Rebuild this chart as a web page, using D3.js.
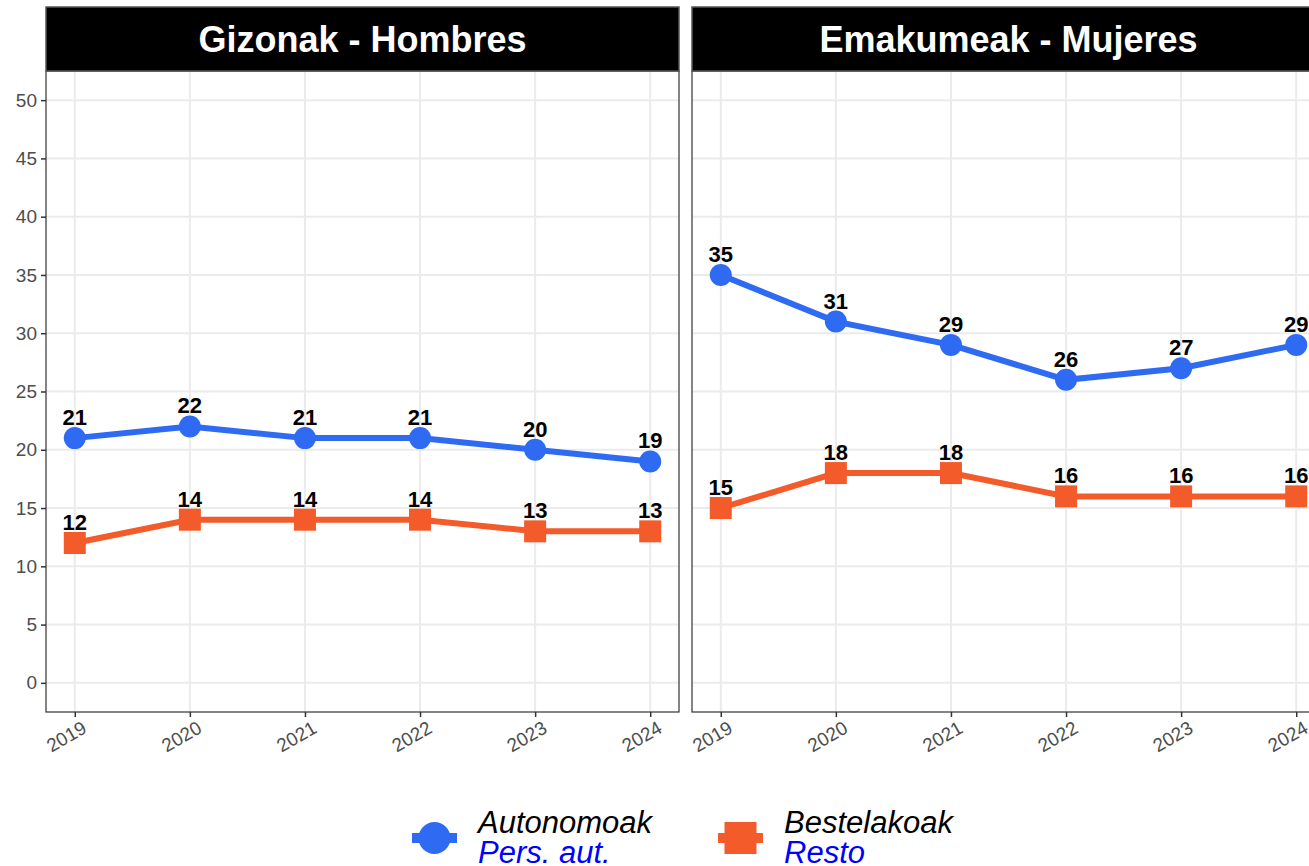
<!DOCTYPE html>
<html>
<head>
<meta charset="utf-8">
<script src="https://cdn.jsdelivr.net/npm/d3@7"></script>
<style>
  body { margin: 0; background: #fff; }
  svg { display: block; font-family: "Liberation Sans", Arial, sans-serif; }
</style>
</head>
<body>
<div id="chart"></div>
<script>
// data
var years = [2019, 2020, 2021, 2022, 2023, 2024];
var panels = ["Gizonak - Hombres", "Emakumeak - Mujeres"];
var autonomoakGiz = [21, 22, 21, 21, 20, 19];
var bestelakoakGiz = [12, 14, 14, 14, 13, 13];
var autonomoakEma = [35, 31, 29, 26, 27, 29];
var bestelakoakEma = [15, 18, 18, 16, 16, 16];
var yTicks = [0, 5, 10, 15, 20, 25, 30, 35, 40, 45, 50];
var seriesNames = [["Autonomoak", "Pers. aut."], ["Bestelakoak", "Resto"]];

var blue = "#2E6BF2", orange = "#F45B2A";

var width = 1309, height = 866;
var panelW = 633, stripTop = 7, stripH = 64, panelTop = 71, panelBottom = 712;
var panelX = [46, 692];

var svg = d3.select("#chart").append("svg")
  .attr("width", width)
  .attr("height", height);

var y = d3.scaleLinear().domain([-2.5, 52.5]).range([panelBottom, panelTop]);

var data = [
  [autonomoakGiz, bestelakoakGiz],
  [autonomoakEma, bestelakoakEma]
];

panels.forEach(function(title, p) {
  var x = d3.scaleLinear().domain([2018.75, 2024.25]).range([panelX[p], panelX[p] + panelW]);
  var g = svg.append("g");

  // grid
  g.selectAll(".gy").data(yTicks).enter().append("line")
    .attr("x1", panelX[p]).attr("x2", panelX[p] + panelW)
    .attr("y1", d => y(d)).attr("y2", d => y(d))
    .attr("stroke", "#ebebeb").attr("stroke-width", 2);
  g.selectAll(".gx").data(years).enter().append("line")
    .attr("x1", d => x(d)).attr("x2", d => x(d))
    .attr("y1", panelTop).attr("y2", panelBottom)
    .attr("stroke", "#ebebeb").attr("stroke-width", 2);

  // x axis
  var xa = g.append("g")
    .attr("transform", "translate(0," + panelBottom + ")")
    .call(d3.axisBottom(x).tickValues(years).tickFormat(d3.format("d")).tickSize(5).tickSizeOuter(0));
  xa.select(".domain").remove();
  xa.selectAll(".tick line").attr("stroke", "#333").attr("stroke-width", 1.5);
  xa.selectAll(".tick text")
    .attr("fill", "#4d4d4d").style("font-size", "19px")
    .attr("text-anchor", "end")
    .attr("transform", "translate(6,8) rotate(-30)")
    .attr("dy", "0.71em").attr("y", 0).attr("x", 0);

  if (p === 0) {
    var ya = g.append("g")
      .attr("transform", "translate(" + panelX[p] + ",0)")
      .call(d3.axisLeft(y).tickValues(yTicks).tickSize(5).tickSizeOuter(0));
    ya.select(".domain").remove();
    ya.selectAll(".tick line").attr("stroke", "#333").attr("stroke-width", 1.5);
    ya.selectAll(".tick text").attr("fill", "#4d4d4d").style("font-size", "19px").attr("x", -9);
  }

  // panel border
  g.append("rect")
    .attr("x", panelX[p]).attr("y", panelTop)
    .attr("width", panelW).attr("height", panelBottom - panelTop)
    .attr("fill", "none").attr("stroke", "#333").attr("stroke-width", 1.2);

  // strip
  g.append("rect")
    .attr("x", panelX[p]).attr("y", stripTop)
    .attr("width", panelW).attr("height", stripH)
    .attr("fill", "#000").attr("stroke", "#555").attr("stroke-width", 1.5);
  g.append("text")
    .attr("x", panelX[p] + panelW / 2).attr("y", 52)
    .attr("text-anchor", "middle")
    .attr("fill", "#fff").style("font-size", "36px").style("font-weight", "bold")
    .text(title);

  var line = d3.line().x((d, i) => x(years[i])).y(d => y(d));
  var colors = [blue, orange];

  data[p].forEach(function(vals, s) {
    g.append("path").datum(vals)
      .attr("d", line).attr("fill", "none")
      .attr("stroke", colors[s]).attr("stroke-width", 6);
    if (s === 0) {
      g.selectAll(".pt" + s).data(vals).enter().append("circle")
        .attr("cx", (d, i) => x(years[i])).attr("cy", d => y(d))
        .attr("r", 11).attr("fill", colors[s]);
    } else {
      g.selectAll(".pt" + s).data(vals).enter().append("rect")
        .attr("x", (d, i) => x(years[i]) - 11).attr("y", d => y(d) - 11)
        .attr("width", 22).attr("height", 22).attr("fill", colors[s]);
    }
    g.selectAll(".lb" + s).data(vals).enter().append("text")
      .attr("x", (d, i) => x(years[i])).attr("y", d => y(d) - 13)
      .attr("text-anchor", "middle")
      .style("font-size", "22px").style("font-weight", "bold")
      .attr("fill", "#000")
      .text(d => d);
  });
});

// legend
var legX = [412, 718];
var colorsL = [blue, orange];
seriesNames.forEach(function(names, s) {
  var lg = svg.append("g").attr("transform", "translate(" + legX[s] + ",838)");
  lg.append("line").attr("x1", 0).attr("x2", 45).attr("y1", 0).attr("y2", 0)
    .attr("stroke", colorsL[s]).attr("stroke-width", 10);
  if (s === 0) {
    lg.append("circle").attr("cx", 22.5).attr("cy", 0).attr("r", 16).attr("fill", colorsL[s]);
  } else {
    lg.append("rect").attr("x", 6.5).attr("y", -16).attr("width", 32).attr("height", 32).attr("fill", colorsL[s]);
  }
  lg.append("text").attr("x", 66).attr("y", -5)
    .style("font-size", "31px").style("font-style", "italic")
    .attr("fill", "#000").text(names[0]);
  lg.append("text").attr("x", 66).attr("y", 25)
    .style("font-size", "31px").style("font-style", "italic")
    .attr("fill", "#0000FF").text(names[1]);
});
</script>
</body>
</html>
